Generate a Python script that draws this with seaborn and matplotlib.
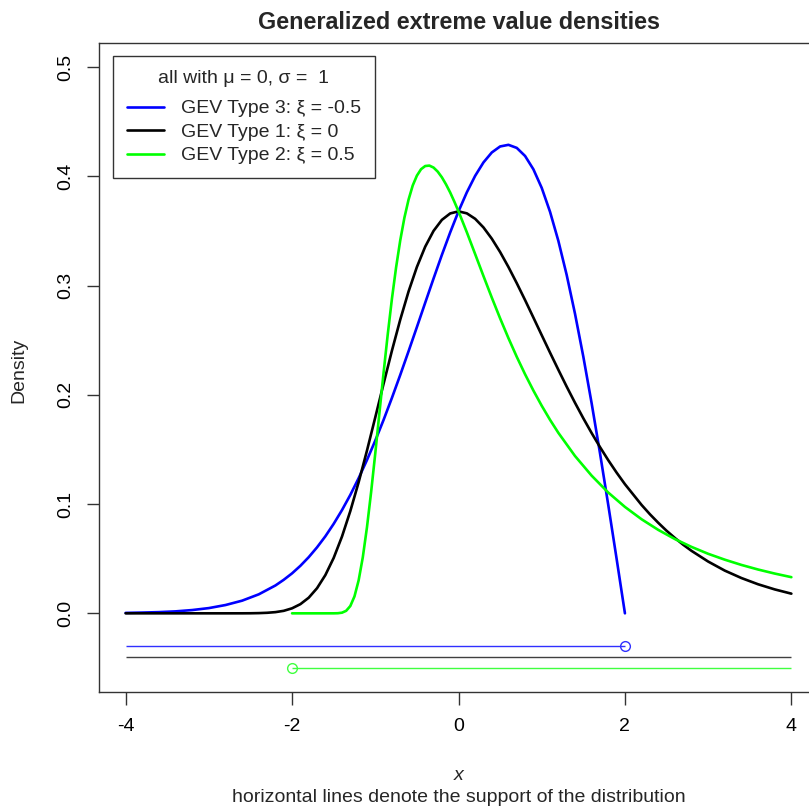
import numpy as np
import pandas as pd
import matplotlib
matplotlib.use("Agg")
import matplotlib.pyplot as plt
from matplotlib.lines import Line2D
import seaborn as sns

# ---- data ----
x_type3 = [-4.0, -3.8, -3.6, -3.4, -3.2, -3.0, -2.8, -2.6, -2.4, -2.2, -2.1, -2.0, -1.9,
           -1.8, -1.7, -1.6, -1.5, -1.4, -1.3, -1.2, -1.1, -1.0, -0.9, -0.8, -0.7, -0.6,
           -0.5, -0.4, -0.3, -0.2, -0.1, 0.0, 0.1, 0.2, 0.3, 0.4, 0.5, 0.6, 0.7, 0.8, 0.9,
           1.0, 1.1, 1.2, 1.3, 1.4, 1.5, 1.6, 1.7, 1.8, 1.9, 2.0]
y_type3 = [0.0004, 0.0007, 0.0011, 0.0018, 0.0030, 0.0048, 0.0076, 0.0116, 0.0174, 0.0255,
           0.0307, 0.0366, 0.0435, 0.0514, 0.0604, 0.0705, 0.0819, 0.0945, 0.1084, 0.1237,
           0.1403, 0.1581, 0.1771, 0.1972, 0.2182, 0.2399, 0.2620, 0.2843, 0.3064, 0.3280,
           0.3486, 0.3679, 0.3853, 0.4004, 0.4127, 0.4218, 0.4273, 0.4288, 0.4260, 0.4186,
           0.4064, 0.3894, 0.3675, 0.3409, 0.3097, 0.2742, 0.2349, 0.1922, 0.1467, 0.0990,
           0.0499, 0.0]

x_type1 = [-4.0, -3.5, -3.0, -2.8, -2.6, -2.5, -2.4, -2.3, -2.2, -2.1, -2.0, -1.9, -1.8,
           -1.7, -1.6, -1.5, -1.4, -1.3, -1.2, -1.1, -1.0, -0.9, -0.8, -0.7, -0.6, -0.5,
           -0.4, -0.3, -0.2, -0.1, 0.0, 0.1, 0.2, 0.3, 0.4, 0.5, 0.6, 0.7, 0.8, 0.9, 1.0,
           1.1, 1.2, 1.3, 1.4, 1.5, 1.6, 1.7, 1.8, 1.9, 2.0, 2.2, 2.3, 2.4, 2.5, 2.6, 2.7,
           2.8, 3.0, 3.2, 3.4, 3.6, 3.8, 4.0]
y_type1 = [0.0, 0.0, 0.0, 0.0, 0.00002, 0.00006, 0.0002, 0.0005, 0.0011, 0.0023, 0.0046,
           0.0084, 0.0143, 0.0230, 0.0350, 0.0507, 0.0703, 0.0936, 0.1200, 0.1489, 0.1794,
           0.2102, 0.2404, 0.2688, 0.2946, 0.3170, 0.3356, 0.3500, 0.3601, 0.3660, 0.3679,
           0.3661, 0.3611, 0.3532, 0.3429, 0.3307, 0.3170, 0.3022, 0.2867, 0.2707, 0.2546,
           0.2386, 0.2229, 0.2075, 0.1927, 0.1785, 0.1650, 0.1522, 0.1401, 0.1288, 0.1182,
           0.0992, 0.0907, 0.0829, 0.0756, 0.0690, 0.0628, 0.0572, 0.0474, 0.0391, 0.0323,
           0.0266, 0.0219, 0.0180]

x_type2 = [-2.0, -1.8, -1.6, -1.5, -1.45, -1.4, -1.35, -1.3, -1.25, -1.2, -1.15, -1.1, -1.05,
           -1.0, -0.95, -0.9, -0.85, -0.8, -0.75, -0.7, -0.65, -0.6, -0.55, -0.5, -0.45,
           -0.4, -0.35, -0.3, -0.25, -0.2, -0.15, -0.1, -0.05, 0.0, 0.1, 0.2, 0.3, 0.4, 0.5,
           0.6, 0.7, 0.8, 0.9, 1.0, 1.1, 1.2, 1.4, 1.6, 1.8, 2.0, 2.2, 2.4, 2.6, 2.8, 3.0,
           3.2, 3.4, 3.6, 3.8, 4.0]
y_type2 = [0.0, 0.0, 0.0, 0.00001, 0.0001, 0.0006, 0.0023, 0.0067, 0.0155, 0.0302, 0.0513,
           0.0787, 0.1110, 0.1465, 0.1836, 0.2204, 0.2555, 0.2879, 0.3166, 0.3414, 0.3621,
           0.3787, 0.3916, 0.4006, 0.4065, 0.4094, 0.4098, 0.4080, 0.4043, 0.3991, 0.3926,
           0.3852, 0.3768, 0.3679, 0.3488, 0.3288, 0.3087, 0.2890, 0.2700, 0.2519, 0.2348,
           0.2188, 0.2039, 0.1900, 0.1771, 0.1652, 0.1440, 0.1260, 0.1105, 0.0974, 0.0861,
           0.0764, 0.0680, 0.0608, 0.0545, 0.0491, 0.0443, 0.0401, 0.0364, 0.0331]

series_names = ["GEV Type 3: ξ = -0.5", "GEV Type 1: ξ = 0", "GEV Type 2: ξ = 0.5"]
series_colors = ["#0000FF", "#000000", "#00FF00"]

# support of each distribution: (start, end, level, open-circle end)
support_start = [-4.0, -4.0, -2.0]
support_end = [2.0, 4.0, 4.0]
support_level = [-0.03, -0.04, -0.05]
support_circle = [2.0, None, -2.0]
support_colors = ["#3030FF", "#404040", "#40FF40"]

x_ticks = [-4, -2, 0, 2, 4]
y_ticks = [0.0, 0.1, 0.2, 0.3, 0.4, 0.5]

# ---- build table ----
frames = []
for name, xs, ys in zip(series_names, [x_type3, x_type1, x_type2], [y_type3, y_type1, y_type2]):
    frames.append(pd.DataFrame({"x": xs, "density": ys, "series": name}))
df = pd.concat(frames, ignore_index=True)

sns.set_theme(style="white")
plt.rcParams["font.family"] = ["Liberation Sans", "DejaVu Sans"]

W, H = 809, 807
fig = plt.figure(figsize=(W / 100, H / 100), dpi=100)
ax_left, ax_right, ax_top, ax_bottom = 99, 818, 43, 692
ax = fig.add_axes([ax_left / W, 1 - ax_bottom / H, (ax_right - ax_left) / W, (ax_bottom - ax_top) / H])

sns.lineplot(data=df, x="x", y="density", hue="series", hue_order=series_names,
             palette=dict(zip(series_names, series_colors)), estimator=None, sort=True,
             linewidth=1.9, ax=ax, legend=False)
for ln in ax.get_lines():
    ln.set_solid_joinstyle("round")

for xs, xe, lev, xc, col in zip(support_start, support_end, support_level, support_circle, support_colors):
    ax.plot([xs, xe], [lev, lev], color=col, lw=1.0, solid_capstyle="butt")
    if xc is not None:
        ax.plot([xc], [lev], marker="o", markersize=7, markerfacecolor="none",
                markeredgecolor=col, markeredgewidth=1.0, linestyle="none")

ax.set_xlim(-4.32, 4.32)
ax.set_ylim(-0.072, 0.522)
ax.set_xticks(x_ticks)
ax.set_xticklabels([str(t) for t in x_ticks])
ax.set_yticks(y_ticks)
ax.set_yticklabels([f"{t:.1f}" for t in y_ticks], rotation=90, va="center")
ax.tick_params(axis="both", direction="out", length=9, width=1, color="#333333",
               labelsize=14, labelcolor="black", bottom=True, left=True)
ax.tick_params(axis="x", pad=10)
ax.tick_params(axis="y", pad=9)
for sp in ax.spines.values():
    sp.set_color("#333333")
    sp.set_linewidth(1.0)
ax.set_xlabel("")
ax.set_ylabel("")
ax.grid(False)

cx = (ax_left + ax_right) / 2 / W
ax.set_title("Generalized extreme value densities", fontsize=16.8, fontweight="bold", pad=10)
fig.text(cx, 1 - 775 / H, "x", style="italic", fontsize=14, ha="center", va="center")
fig.text(cx, 1 - 797 / H, "horizontal lines denote the support of the distribution",
         fontsize=14, ha="center", va="center")
fig.text(19 / W, 1 - 370 / H, "Density", rotation=90, fontsize=14, ha="center", va="center")

handles = [Line2D([0], [0], color=c, lw=1.9) for c in series_colors]
leg = ax.legend(handles, series_names, title="all with μ = 0, σ =  1", loc="upper left",
                bbox_to_anchor=((113 - ax_left) / (ax_right - ax_left), (ax_bottom - 56) / (ax_bottom - ax_top)),
                borderaxespad=0, fontsize=14, title_fontsize=14, frameon=True, fancybox=False,
                edgecolor="#333333", framealpha=1, handlelength=1.9, handletextpad=0.9,
                labelspacing=0.3, borderpad=0.7)
leg._legend_box.sep = 9.5
leg.get_frame().set_linewidth(1.0)

fig.savefig("out.png", dpi=100)
